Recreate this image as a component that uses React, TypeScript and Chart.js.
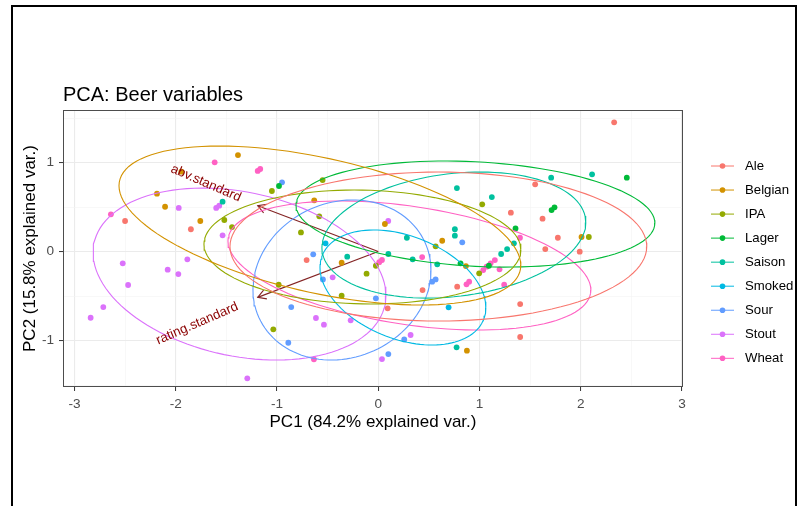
import React, { useEffect, useRef } from "react";
import { Chart, registerables } from "chart.js";
Chart.register(...registerables);

const FONT = "'Liberation Sans', Arial, Helvetica, sans-serif";

const styleNames = ["Ale", "Belgian", "IPA", "Lager", "Saison", "Smoked", "Sour", "Stout", "Wheat"];
const styleColors = ["#F8766D", "#D39200", "#93AA00", "#00BA38", "#00C19F", "#00B9E3", "#619CFF", "#DB72FB", "#FF61C3"];

const alePoints = [
  [2.33, 1.452], [1.55, 0.755], [1.31, 0.436], [1.623, 0.369], [1.774, 0.155], [1.65, 0.028],
  [1.99, -0.002], [-2.5, 0.343], [-1.85, 0.25], [-0.707, -0.096], [0.78, -0.395], [0.438, -0.433],
  [0.093, -0.638], [1.402, -0.59], [1.402, -0.96],
];
const belgianPoints = [
  [-1.385, 1.084], [-1.944, 0.897], [-2.185, 0.65], [-2.105, 0.503], [-1.757, 0.343], [-0.632, 0.575],
  [0.066, 0.309], [0.632, 0.121], [2.008, 0.163], [-0.361, -0.126], [0.866, -0.163], [0.876, -1.114],
];
const ipaPoints = [
  [-1.05, 0.68], [-1.52, 0.354], [-1.444, 0.275], [-0.549, 0.803], [-0.582, 0.395], [-0.763, 0.215],
  [0.567, 0.058], [1.027, 0.53], [2.08, 0.163], [-0.023, -0.16], [-0.115, -0.249], [-0.983, -0.373],
  [-0.361, -0.497], [-1.036, -0.874], [0.997, -0.245],
];
const lagerPoints = [
  [-0.98, 0.736], [2.455, 0.83], [1.712, 0.466], [1.741, 0.497], [1.356, 0.26], [0.813, -0.133], [1.093, -0.16],
];
const saisonPoints = [
  [-1.537, 0.56], [0.777, 0.713], [0.757, 0.25], [0.757, 0.178], [0.283, 0.155], [0.1, -0.028],
  [2.112, 0.867], [1.708, 0.83], [1.122, 0.612], [1.34, 0.092], [1.273, 0.028], [1.214, -0.028],
  [-0.306, -0.058], [0.34, -0.088], [0.583, -0.144], [0.774, -1.076],
];
const smokedPoints = [
  [-0.52, 0.092], [0.695, -0.627],
];
const sourPoints = [
  [-0.95, 0.778], [-0.642, -0.032], [-0.546, -0.313], [-0.023, -0.526], [-0.859, -0.624], [-0.888, -1.025],
  [0.1, -1.152], [0.533, -0.339], [0.567, -0.313], [0.257, -0.987], [0.83, 0.103],
];
const stoutPoints = [
  [-1.6, 0.49], [-1.57, 0.515], [-1.97, 0.49], [-1.537, 0.182], [0.099, 0.343], [-1.885, -0.088],
  [-2.523, -0.133], [-2.079, -0.204], [-1.974, -0.253], [-2.47, -0.376], [-2.715, -0.624], [-2.84, -0.744],
  [-1.293, -1.425], [-0.45, -0.29], [-0.615, -0.747], [-0.536, -0.822], [-0.272, -0.773], [0.037, -1.208],
  [0.32, -0.938],
];
const wheatPoints = [
  [-1.615, 1.002], [-1.19, 0.905], [-1.165, 0.927], [-2.64, 0.418], [1.4, 0.155], [0.01, -0.12],
  [0.037, -0.095], [-0.635, -1.211], [0.434, -0.062], [1.037, -0.208], [1.07, -0.17], [1.11, -0.133],
  [1.152, -0.096], [1.198, -0.2], [1.244, -0.373], [0.872, -0.369], [0.898, -0.339],
];
const pointsByStyle = [alePoints, belgianPoints, ipaPoints, lagerPoints, saisonPoints, smokedPoints, sourPoints, stoutPoints, wheatPoints];

// 68% ellipses per style: centre, half extents, tilt (y at x-extreme relative to half height)
const ellipseCenterX = [0.594, -0.576, -0.156, 0.96, 0.747, 0.244, -0.358, -1.37, 0.308];
const ellipseCenterY = [0.056, 0.292, 0.051, 0.421, 0.185, -0.404, -0.32, -0.253, -0.157];
const ellipseHalfWidth = [2.058, 1.984, 1.565, 1.772, 1.303, 0.819, 0.879, 1.446, 1.792];
const ellipseHalfHeight = [0.837, 0.893, 0.64, 0.596, 0.708, 0.646, 0.899, 0.966, 0.725];
const ellipseTilt = [0.0, -0.5, -0.05, -0.17, 0.2, -0.35, 0.12, -0.25, -0.38];

const loadingNames = ["abv.standard", "rating.standard"];
const loadingX = [-1.19, -1.19];
const loadingY = [0.515, -0.515];

const xTicks = [-3, -2.5, -2, -1.5, -1, -0.5, 0, 0.5, 1, 1.5, 2, 2.5, 3];
const yTicks = [-1.5, -1, -0.5, 0, 0.5, 1, 1.5];

const titleText = "PCA: Beer variables";
const xTitle = "PC1 (84.2% explained var.)";
const yTitle = "PC2 (15.8% explained var.)";

function ellipsePath(i: number) {
  const pts: { x: number; y: number }[] = [];
  const n = 120;
  const r = ellipseTilt[i];
  const s = Math.sqrt(1 - r * r);
  for (let k = 0; k <= n; k++) {
    const t = (2 * Math.PI * k) / n;
    pts.push({
      x: ellipseCenterX[i] + ellipseHalfWidth[i] * Math.cos(t),
      y: ellipseCenterY[i] + ellipseHalfHeight[i] * (r * Math.cos(t) - s * Math.sin(t)),
    });
  }
  return pts;
}

const isMajor = (v: number) => Math.abs(v - Math.round(v)) < 1e-9;

const biplotPlugin = {
  id: "biplot",
  beforeDatasetsDraw(chart: any) {
    const { ctx, chartArea, scales } = chart;
    const xs = scales.x, ys = scales.y;
    ctx.save();
    ctx.beginPath();
    ctx.rect(chartArea.left, chartArea.top, chartArea.right - chartArea.left, chartArea.bottom - chartArea.top);
    ctx.clip();
    ctx.strokeStyle = "#832424";
    ctx.lineWidth = 1.1;
    const x0 = xs.getPixelForValue(0), y0 = ys.getPixelForValue(0);
    for (let i = 0; i < loadingNames.length; i++) {
      const x1 = xs.getPixelForValue(loadingX[i]);
      const y1 = ys.getPixelForValue(loadingY[i]);
      ctx.beginPath();
      ctx.moveTo(x0, y0);
      ctx.lineTo(x1, y1);
      ctx.stroke();
      const a = Math.atan2(y1 - y0, x1 - x0);
      const L = 9.3;
      const h = Math.PI / 6;
      ctx.beginPath();
      ctx.moveTo(x1 - L * Math.cos(a - h), y1 - L * Math.sin(a - h));
      ctx.lineTo(x1, y1);
      ctx.lineTo(x1 - L * Math.cos(a + h), y1 - L * Math.sin(a + h));
      ctx.stroke();
    }
    ctx.restore();
  },
  afterDatasetsDraw(chart: any) {
    const { ctx, chartArea, scales } = chart;
    const xs = scales.x, ys = scales.y;
    ctx.save();
    ctx.font = `13.2px ${FONT}`;
    ctx.fillStyle = "#8B0000";
    ctx.textBaseline = "middle";
    ctx.textAlign = "left";
    for (let i = 0; i < loadingNames.length; i++) {
      const px = xs.getPixelForValue(loadingX[i]);
      const py = ys.getPixelForValue(loadingY[i]);
      const ang = Math.atan(loadingY[i] / loadingX[i]);
      const w = ctx.measureText(loadingNames[i]).width;
      const hj = (1 - 1.5 * Math.sign(loadingX[i])) / 2;
      ctx.save();
      ctx.translate(px, py);
      ctx.rotate(-ang);
      ctx.fillText(loadingNames[i], -hj * w, 0);
      ctx.restore();
    }
    ctx.strokeStyle = "#4D4D4D";
    ctx.lineWidth = 1;
    ctx.strokeRect(chartArea.left + 0.5, chartArea.top + 0.5, chartArea.right - chartArea.left - 1, chartArea.bottom - chartArea.top - 1);
    ctx.restore();
  },
  afterDraw(chart: any) {
    const { ctx } = chart;
    ctx.save();
    ctx.font = `13.2px ${FONT}`;
    ctx.textBaseline = "middle";
    ctx.textAlign = "left";
    for (let i = 0; i < styleNames.length; i++) {
      const y = 166 + 24.04 * i;
      ctx.strokeStyle = styleColors[i];
      ctx.lineWidth = 1;
      ctx.beginPath();
      ctx.moveTo(711, y);
      ctx.lineTo(734, y);
      ctx.stroke();
      ctx.fillStyle = styleColors[i];
      ctx.beginPath();
      ctx.arc(722.5, y, 2.8, 0, Math.PI * 2);
      ctx.fill();
      ctx.fillStyle = "#000000";
      ctx.fillText(styleNames[i], 745, y);
    }
    ctx.restore();
  },
};

export default function App() {
  const ref = useRef<HTMLCanvasElement | null>(null);
  useEffect(() => {
    if (!ref.current) return;
    const datasets: any[] = [];
    styleNames.forEach((name, i) => {
      datasets.push({
        label: name + " ellipse",
        data: ellipsePath(i),
        showLine: true,
        borderColor: styleColors[i],
        borderWidth: 1.1,
        pointRadius: 0,
        fill: false,
        tension: 0,
        order: 0,
      });
    });
    styleNames.forEach((name, i) => {
      datasets.push({
        label: name,
        data: pointsByStyle[i].map(([x, y]) => ({ x, y })),
        backgroundColor: styleColors[i],
        borderWidth: 0,
        pointRadius: 2.9,
        order: 1,
      });
    });
    const chart = new Chart(ref.current, {
      type: "scatter",
      data: { datasets },
      plugins: [biplotPlugin],
      options: {
        animation: false,
        responsive: false,
        events: [],
        layout: { padding: { left: 11, right: 119, top: 0, bottom: 69 } },
        plugins: {
          legend: { display: false },
          tooltip: { enabled: false },
          title: {
            display: true,
            text: titleText,
            align: "start",
            fullSize: false,
            color: "#000000",
            font: { size: 20, family: FONT, weight: "normal" },
            padding: { top: 83, bottom: 3 },
          },
        },
        scales: {
          x: {
            type: "linear",
            min: -3.113,
            max: 3.01,
            afterBuildTicks: (s: any) => { s.ticks = xTicks.map((v) => ({ value: v })); },
            afterFit: (s: any) => { s.height = 50; },
            ticks: {
              autoSkip: false,
              maxRotation: 0,
              padding: 5,
              color: "#4D4D4D",
              font: { size: 13.6, family: FONT },
              callback: (v: any) => (isMajor(Number(v)) ? String(v) : ""),
            },
            grid: {
              color: (c: any) => (isMajor(c.tick.value) ? "#EBEBEB" : "#F3F3F3"),
              lineWidth: (c: any) => (isMajor(c.tick.value) ? 1.1 : 0.6),
              tickColor: (c: any) => (isMajor(c.tick.value) ? "#333333" : "rgba(0,0,0,0)"),
              tickLength: 4,
              tickWidth: 1,
            },
            border: { display: false },
            title: {
              display: true,
              text: xTitle,
              color: "#000000",
              font: { size: 17, family: FONT },
              padding: { top: 4, bottom: 4.8 },
            },
          },
          y: {
            type: "linear",
            min: -1.522,
            max: 1.59,
            afterBuildTicks: (s: any) => { s.ticks = yTicks.map((v) => ({ value: v })); },
            afterFit: (s: any) => { s.width = 52; },
            ticks: {
              autoSkip: false,
              padding: 5,
              color: "#4D4D4D",
              font: { size: 13.6, family: FONT },
              callback: (v: any) => (isMajor(Number(v)) ? String(v) : ""),
            },
            grid: {
              color: (c: any) => (isMajor(c.tick.value) ? "#EBEBEB" : "#F3F3F3"),
              lineWidth: (c: any) => (isMajor(c.tick.value) ? 1.1 : 0.6),
              tickColor: (c: any) => (isMajor(c.tick.value) ? "#333333" : "rgba(0,0,0,0)"),
              tickLength: 4,
              tickWidth: 1,
            },
            border: { display: false },
            title: {
              display: true,
              text: yTitle,
              color: "#000000",
              font: { size: 17, family: FONT },
              padding: { top: 8.8, bottom: 2 },
            },
          },
        },
      } as any,
    });
    return () => chart.destroy();
  }, []);

  return (
    <div style={{ position: "absolute", left: 0, top: 0, width: 802, height: 506, overflow: "hidden", background: "#ffffff" }}>
      <div
        style={{
          position: "absolute",
          left: 11,
          top: 5,
          width: 786,
          height: 560,
          border: "2px solid #000000",
          boxSizing: "border-box",
        }}
      />
      <canvas ref={ref} width={802} height={506} style={{ position: "absolute", left: 0, top: 0, display: "block" }} />
    </div>
  );
}
